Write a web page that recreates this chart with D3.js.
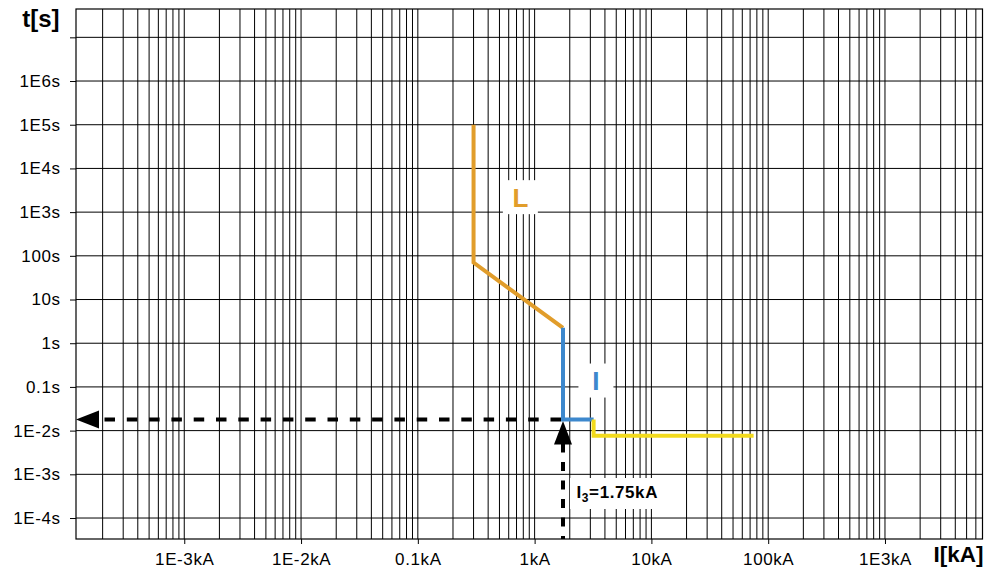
<!DOCTYPE html>
<html><head><meta charset="utf-8">
<script src="https://cdn.jsdelivr.net/npm/d3@7"></script>
<style>body{margin:0;background:#fff}svg{display:block}</style>
</head><body><svg id="c" width="999" height="568"></svg>
<script>
// ---- data ----
const xTickValues = [1e-3, 1e-2, 1e-1, 1, 10, 100, 1000];
const xTickLabels = ["1E-3kA", "1E-2kA", "0.1kA", "1kA", "10kA", "100kA", "1E3kA"];
const yTickValues = [1e7, 1e6, 1e5, 1e4, 1e3, 100, 10, 1, 0.1, 0.01, 0.001, 0.0001];
const yTickLabels = ["", "1E6s", "1E5s", "1E4s", "1E3s", "100s", "10s", "1s", "0.1s", "1E-2s", "1E-3s", "1E-4s"];
const curveL = [[0.3, 1e5], [0.3, 70], [1.75, 2.25]];
const curveI = [[1.75, 2.25], [1.75, 0.018], [3.2, 0.018]];
const curveInst = [[3.2, 0.018], [3.2, 0.0076], [75, 0.0076]];
const i3Current = 1.75, i3Time = 0.018;
const curveLabels = [
  {text: "L", x: 0.755, t: 2200, color: "#E19D2B"},
  {text: "I", x: 3.35, t: 0.14, color: "#3D88CD"}
];

// ---- layout ----
const svg = d3.select("#c");
const L = 76, R = 982.5, T = 9, B = 539;
const x = d3.scaleLog().domain([1.183e-4, 6.84e3]).range([L, R]);
const y = d3.scaleLog().domain([3.31e-5, 4.45e7]).range([B, T]);
const FONT = "'Liberation Sans', Arial, Helvetica, sans-serif";

// grid
const grid = svg.append("g");
grid.selectAll("line.v").data(x.ticks()).join("line")
  .attr("x1", d => x(d)).attr("x2", d => x(d)).attr("y1", T).attr("y2", B)
  .attr("stroke", "#000").attr("stroke-width", 1);
grid.selectAll("line.h").data(y.ticks()).join("line")
  .attr("x1", L).attr("x2", R).attr("y1", d => y(d)).attr("y2", d => y(d))
  .attr("stroke", "#000").attr("stroke-width", 1);
svg.append("rect").attr("x", L).attr("y", T).attr("width", R - L).attr("height", B - T)
  .attr("fill", "none").attr("stroke", "#000").attr("stroke-width", 1.2);

// axes
const xa = svg.append("g").attr("transform", `translate(0,${B})`)
  .call(d3.axisBottom(x).tickValues(xTickValues).tickFormat((d, i) => xTickLabels[i]).tickSize(5).tickPadding(9));
const ya = svg.append("g").attr("transform", `translate(${L},0)`)
  .call(d3.axisLeft(y).tickValues(yTickValues).tickFormat((d, i) => yTickLabels[i]).tickSize(6).tickPadding(10));
[xa, ya].forEach(g => {
  g.select(".domain").remove();
  g.selectAll("line").attr("stroke", "#000");
  g.selectAll("text").attr("font-family", FONT).attr("font-size", 17)
    .attr("letter-spacing", "0.6px").attr("fill", "#000");
});
ya.selectAll("text").attr("dx", "0.6px");

// axis titles
svg.append("text").attr("x", 59.5).attr("y", 27).attr("text-anchor", "end")
  .attr("font-family", FONT).attr("font-weight", "bold").attr("font-size", 24).text("t[s]");
svg.append("text").attr("x", 983.5).attr("y", 562).attr("text-anchor", "end")
  .attr("font-family", FONT).attr("font-weight", "bold").attr("font-size", 22.5).text("I[kA]");

// dashed guides
const xi = x(i3Current), yi = y(i3Time);
svg.append("line").attr("x1", xi - 2).attr("x2", L + 22).attr("y1", yi).attr("y2", yi)
  .attr("stroke", "#000").attr("stroke-width", 4).attr("stroke-dasharray", "10.5,11.8");
svg.append("path").attr("d", `M${L},${yi}L${L + 23},${yi - 9}L${L + 23},${yi + 9}Z`).attr("fill", "#000");
svg.append("line").attr("x1", xi).attr("x2", xi).attr("y1", yi + 24).attr("y2", B)
  .attr("stroke", "#000").attr("stroke-width", 4).attr("stroke-dasharray", "9,9.5");
svg.append("path").attr("d", `M${xi},${yi + 1.5}L${xi + 9},${yi + 25}L${xi - 9},${yi + 25}Z`).attr("fill", "#000");

// curves
const line = d3.line().x(d => x(d[0])).y(d => y(d[1]));
[[curveL, "#E19D2B"], [curveI, "#3D88CD"], [curveInst, "#F2DA1C"]].forEach(([c, col]) => {
  svg.append("path").attr("d", line(c)).attr("fill", "none").attr("stroke", col)
    .attr("stroke-width", 4).attr("stroke-linejoin", "miter");
});

// curve labels
curveLabels.forEach(lb => {
  const cx = x(lb.x), cy = y(lb.t);
  svg.append("rect").attr("x", cx - 17.5).attr("y", cy - 17).attr("width", 35).attr("height", 34).attr("fill", "#fff");
  svg.append("text").attr("x", cx).attr("y", cy + 9.5).attr("text-anchor", "middle")
    .attr("font-family", FONT).attr("font-weight", "bold").attr("font-size", 26)
    .attr("fill", lb.color).text(lb.text);
});

// I3 annotation
svg.append("rect").attr("x", xi + 7).attr("y", 478).attr("width", 94).attr("height", 31).attr("fill", "#fff");
const t3 = svg.append("text").attr("x", xi + 13.5).attr("y", 497.5)
  .attr("font-family", FONT).attr("font-weight", "bold").attr("font-size", 17).attr("letter-spacing", "0.6px");
t3.append("tspan").text("I");
t3.append("tspan").attr("font-size", 12).attr("dy", 4).text("3");
t3.append("tspan").attr("dy", -4).text("=" + i3Current + "kA");
</script></body></html>
